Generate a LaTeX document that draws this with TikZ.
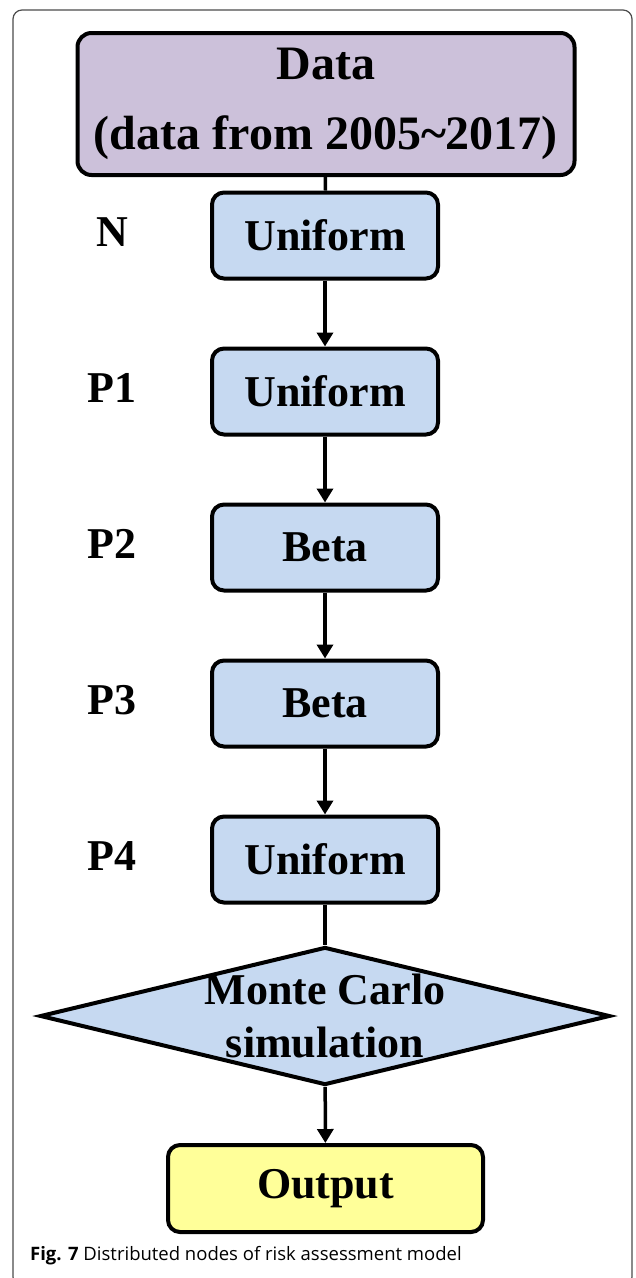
\documentclass[tikz,border=0pt]{standalone}
\usepackage{fontspec}
\setmainfont{Liberation Serif}
\newfontfamily\capfont{Open Sans}
\usepackage{tikz}
\usetikzlibrary{arrows.meta,shapes.geometric,positioning}

\definecolor{datafill}{HTML}{CCC1DA}
\definecolor{boxfill}{HTML}{C6D9F1}
\definecolor{outfill}{HTML}{FFFF99}

\tikzstyle{frame} = [draw=black!70, line width=1.2pt, rounded corners=9pt]
\tikzstyle{datab} = [rectangle, draw, line width=4pt, fill=datafill, rounded corners=14pt,
    minimum width=497pt, minimum height=142pt, align=center, inner sep=0pt,
    font=\fontsize{48}{70}\selectfont\bfseries]
\tikzstyle{dist} = [rectangle, draw, line width=4pt, fill=boxfill, rounded corners=12pt,
    minimum width=226pt, minimum height=86pt, font=\fontsize{44}{53}\selectfont\bfseries]
\tikzstyle{mc} = [diamond, draw, line width=4pt, fill=boxfill, inner sep=0pt,
    minimum width=570pt, minimum height=138pt]
\tikzstyle{mctext} = [align=center, inner sep=0pt, font=\fontsize{44}{53}\selectfont\bfseries]
\tikzstyle{outb} = [rectangle, draw, line width=4pt, fill=outfill, rounded corners=12pt,
    minimum width=315pt, minimum height=87pt, font=\fontsize{44}{53}\selectfont\bfseries]
\tikzstyle{lbl} = [inner sep=0pt, font=\fontsize{44}{53}\selectfont\bfseries]
\tikzstyle{conn} = [line width=3.5pt]
\tikzstyle{caption} = [inner sep=0pt, anchor=base west, font=\capfont\fontsize{18.5}{22}\selectfont]

\begin{document}
\begin{tikzpicture}[x=1pt,y=-1pt,>={Triangle[width=16pt,length=14pt]},
                    node distance=156pt]
  \useasboundingbox (0,0) rectangle (635,1278);
  \draw[frame] (13,10) rectangle (632,1286);

  \node[datab] (data) at (326,104) {Data\\(data from 2005\textasciitilde2017)};

  \node[dist] (u1) at (325,235.5) {Uniform};
  \node[dist] (u2) [below of=u1] {Uniform};
  \node[dist] (b1) [below of=u2] {Beta};
  \node[dist] (b2) [below of=b1] {Beta};
  \node[dist] (u4) [below of=b2] {Uniform};

  \node[mc] (mc) at (325,1016) {};
  \node[mctext] (mclabel) at (mc.center) {Monte Carlo\\simulation};
  \node[outb] (out) at (325.5,1188.5) {Output};

  % parameter names
  \node[lbl] (ln)  at (112,232) {N};
  \node[lbl] (lp1) at (112,388) {P1};
  \node[lbl] (lp2) at (112,544) {P2};
  \node[lbl] (lp3) at (112,700) {P3};
  \node[lbl] (lp4) at (112,856) {P4};

  \draw[conn] (data) -- (u1);
  \draw[conn,->] (u1) -- (u2);
  \draw[conn,->] (u2) -- (b1);
  \draw[conn,->] (b1) -- (b2);
  \draw[conn,->] (b2) -- (u4);
  \draw[conn] (u4) -- (mc);
  \draw[conn,->] (mc) -- (out);

  \node[caption] (cap) at (30,1260) {\textbf{Fig. 7} Distributed nodes of risk assessment model};
\end{tikzpicture}
\end{document}
